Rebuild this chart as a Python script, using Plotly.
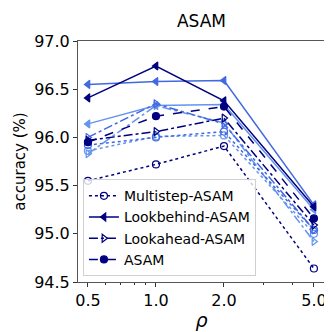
import plotly.graph_objects as go

rho = [0.5, 1.0, 2.0, 5.0]
tick_text = ['0.5', '1.0', '2.0', '5.0']

# three shades per method (dark -> light), ASAM only dark
multistep_navy = [95.55, 95.72, 95.91, 94.64]
multistep_royal = [95.92, 96.00, 96.06, 95.04]
multistep_light = [95.86, 96.01, 96.02, 95.00]

lookbehind_navy = [96.41, 96.74, 96.38, 95.28]
lookbehind_royal = [96.55, 96.58, 96.59, 95.30]
lookbehind_light = [96.14, 96.33, 96.34, 95.25]

lookahead_navy = [95.97, 96.06, 96.20, 95.09]
lookahead_royal = [96.00, 96.35, 96.14, 95.04]
lookahead_light = [95.83, 96.33, 96.15, 94.92]

asam = [95.95, 96.22, 96.32, 95.16]

NAVY = '#000080'
ROYAL = '#4169E1'
LIGHT = '#6495ED'

fig = go.Figure()


def add(y, color, dash, symbol, name=None):
    fig.add_trace(go.Scatter(x=rho, y=y, mode='lines+markers',
                             line=dict(color=color, width=1.5, dash=dash),
                             marker=dict(symbol=symbol, size=7, color=color,
                                         line=dict(color=color, width=1.2)),
                             name=name, showlegend=name is not None))


# light shades first so the dark ones sit on top
add(multistep_light, LIGHT, 'dot', 'circle-open')
add(lookbehind_light, LIGHT, 'solid', 'triangle-left')
add(lookahead_light, LIGHT, 'dashdot', 'triangle-right-open')
add(multistep_royal, ROYAL, 'dot', 'circle-open')
add(lookbehind_royal, ROYAL, 'solid', 'triangle-left')
add(lookahead_royal, ROYAL, 'dashdot', 'triangle-right-open')
add(multistep_navy, NAVY, 'dot', 'circle-open', 'Multistep-ASAM')
add(lookbehind_navy, NAVY, 'solid', 'triangle-left', 'Lookbehind-ASAM')
add(lookahead_navy, NAVY, 'dashdot', 'triangle-right-open', 'Lookahead-ASAM')
add(asam, NAVY, 'dash', 'circle', 'ASAM')

fig.update_layout(
    width=332, height=332,
    margin=dict(l=70, r=15, t=33, b=53),
    paper_bgcolor='white', plot_bgcolor='white',
    font=dict(family='DejaVu Sans', size=16, color='black'),
    title=dict(text='ASAM', xref='paper', x=0.5, xanchor='center',
               y=0.962, yanchor='middle', font=dict(size=17)),
    legend=dict(x=0.02, y=0.024, xanchor='left', yanchor='bottom',
                bordercolor='#d0d0d0', borderwidth=1, bgcolor='rgba(255,255,255,0.8)',
                font=dict(size=14), tracegroupgap=0, itemwidth=30),
)
fig.update_xaxes(type='log', range=[-0.345, 0.748],
                 tickvals=rho, ticktext=tick_text,
                 ticks='outside', ticklen=4, tickcolor='#333333',
                 showgrid=False, zeroline=False,
                 showline=True, linecolor='#555555', linewidth=1, mirror=True,
                 minor=dict(tickvals=[0.6, 0.7, 0.8, 0.9, 3, 4], ticks='outside',
                            ticklen=2, tickcolor='#333333'),
                 title=dict(text='<i>ρ</i>', standoff=4))
fig.update_yaxes(range=[94.5, 97.0], dtick=0.5, tickformat='.1f',
                 ticks='outside', ticklen=4, tickcolor='#333333',
                 showgrid=False, zeroline=False,
                 showline=True, linecolor='#555555', linewidth=1, mirror=True,
                 title=dict(text='accuracy (%)', standoff=4, font=dict(size=15)))

fig.write_html("out.html")
